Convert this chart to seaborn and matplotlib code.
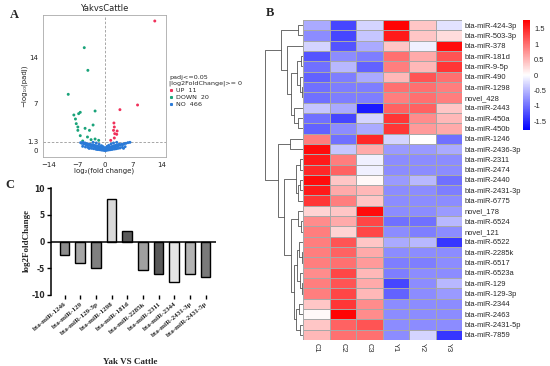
import numpy as np
import pandas as pd
import matplotlib
matplotlib.use("Agg")
import matplotlib.pyplot as plt
import seaborn as sns
from matplotlib.colors import LinearSegmentedColormap
from matplotlib.lines import Line2D

# ---------------- panel A: volcano ----------------
UP_X = [12.4, 8.1, 3.7, 2.2, 2.3, 2.1, 2.4, 2.9, 2.3, 1.4, 3.0]
UP_Y = [19.4, 6.8, 6.1, 4.1, 3.5, 3.0, 2.5, 2.4, 1.85, 1.5, 2.9]
DOWN_X = [-5.2, -4.3, -9.2, -6.2, -6.6, -7.8, -2.5, -3.0, -7.2, -6.8,
          -6.8, -6.2, -3.9, -5.0, -5.6, -2.5, -1.6, -7.4, -4.4, -3.5]
DOWN_Y = [15.4, 12.0, 8.4, 5.7, 5.5, 5.3, 5.9, 3.8, 4.0, 3.5,
          3.0, 2.2, 3.0, 3.3, 1.4, 1.7, 1.5, 4.7, 2.0, 1.6]
NO_X = [-6.1, -5.8, -5.5, -5.3, -5.0, -4.8, -4.6, -4.4, -4.2, -4.0,
        -3.8, -3.6, -3.5, -3.3, -3.1, -3.0, -2.8, -2.6, -2.5, -2.3,
        -2.2, -2.0, -1.9, -1.7, -1.6, -1.5, -1.3, -1.2, -1.1, -1.0,
        -0.9, -0.8, -0.7, -0.6, -0.5, -0.4, -0.3, -0.2, -0.1, 0.0,
        0.1, 0.2, 0.3, 0.4, 0.5, 0.6, 0.7, 0.8, 0.9, 1.0,
        1.1, 1.2, 1.4, 1.5, 1.7, 1.8, 2.0, 2.2, 2.3, 2.5,
        2.7, 2.9, 3.1, 3.3, 3.5, 3.8, 4.1, 4.4, 4.8, 5.2,
        5.7, 6.2,
        -5.6, -4.9, -4.3, -3.9, -3.4, -2.9, -2.4, -2.1, -1.8, -1.4,
        -1.0, -0.7, -0.4, -0.2, 0.2, 0.4, 0.7, 1.0, 1.3, 1.6,
        1.9, 2.4, 2.8, 3.2, 3.7, 4.3, 5.0,
        -3.0, -2.2, -1.5, -0.9, -0.5, 0.0, 0.5, 0.9, 1.5, 2.1,
        2.9, -4.0, 4.6, -1.2, 1.2]
NO_Y = [1.15, 1.05, 1.2, 0.95, 1.1, 0.85, 1.0, 0.8, 0.95, 0.75,
        0.9, 0.7, 0.85, 0.65, 0.8, 0.6, 0.75, 0.55, 0.7, 0.5,
        0.65, 0.45, 0.6, 0.4, 0.55, 0.35, 0.5, 0.3, 0.45, 0.25,
        0.4, 0.2, 0.35, 0.15, 0.3, 0.12, 0.2, 0.08, 0.05, 0.02,
        0.05, 0.1, 0.18, 0.12, 0.3, 0.2, 0.35, 0.25, 0.4, 0.3,
        0.45, 0.35, 0.5, 0.4, 0.55, 0.45, 0.6, 0.5, 0.7, 0.55,
        0.75, 0.6, 0.8, 0.7, 0.9, 0.75, 0.95, 0.85, 1.0, 1.05,
        1.15, 1.2,
        0.6, 0.5, 0.45, 0.35, 0.3, 0.25, 0.2, 0.15, 0.12, 0.1,
        0.06, 0.04, 0.03, 0.02, 0.02, 0.03, 0.05, 0.08, 0.1, 0.14,
        0.16, 0.2, 0.25, 0.3, 0.35, 0.45, 0.55,
        1.2, 1.1, 0.9, 0.7, 0.55, 0.4, 0.6, 0.75, 0.95, 1.1,
        1.2, 0.3, 0.3, 0.2, 0.2]
VOLC_COLORS = {"UP": "#f0305a", "DOWN": "#1aa37a", "NO": "#2a7ad8"}
VOLC_COUNTS = {"UP": 11, "DOWN": 20, "NO": 466}

# ---------------- panel B: heatmap ----------------
HM_ROWS = ["bta-miR-424-3p", "bta-miR-503-3p", "bta-miR-378", "bta-miR-181d",
           "bta-miR-9-5p", "bta-miR-490", "bta-miR-1298", "novel_428",
           "bta-miR-2443", "bta-miR-450a", "bta-miR-450b", "bta-miR-1246",
           "bta-miR-2436-3p", "bta-miR-2311", "bta-miR-2474", "bta-miR-2440",
           "bta-miR-2431-3p", "bta-miR-6775", "novel_178", "bta-miR-6524",
           "novel_121", "bta-miR-6522", "bta-miR-2285k", "bta-miR-6517",
           "bta-miR-6523a", "bta-miR-129", "bta-miR-129-3p", "bta-miR-2344",
           "bta-miR-2463", "bta-miR-2431-5p", "bta-miR-7859"]
HM_COLS = ["C1", "C2", "C3", "Y1", "Y2", "Y3"]
HM_VALUES = [
    [-0.6, -1.3, -0.3, 1.75, 0.4, -0.2],
    [-0.8, -1.3, -0.4, 1.6, 0.4, 0.25],
    [-0.3, -1.2, -0.6, 0.4, -0.1, 1.7],
    [-1.2, -0.8, -0.9, 1.0, 0.6, 1.2],
    [-1.0, -0.5, -1.1, 0.9, 0.5, 1.4],
    [-1.1, -0.9, -0.6, 0.5, 1.2, 1.0],
    [-1.0, -0.9, -0.9, 1.0, 1.0, 0.9],
    [-1.0, -0.9, -0.9, 0.9, 1.0, 0.9],
    [-0.4, -0.6, -1.6, 1.1, 1.1, 0.4],
    [-1.0, -1.3, -0.3, 1.4, 0.8, 0.5],
    [-1.1, -0.8, -0.6, 1.4, 0.7, 0.6],
    [0.9, -1.0, 1.5, -0.3, 0.0, -1.0],
    [1.7, -0.4, 0.6, -0.7, -0.7, -0.6],
    [1.6, 0.9, -0.1, -0.8, -0.8, -0.8],
    [1.5, 1.1, -0.1, -0.8, -0.8, -0.8],
    [1.7, 0.4, 0.05, -0.7, -0.5, -1.0],
    [1.6, 0.6, 0.5, -0.8, -0.8, -0.9],
    [1.4, 0.9, 0.4, -0.8, -0.8, -0.8],
    [0.3, 0.4, 1.7, -0.8, -0.8, -0.7],
    [0.8, 0.6, 1.3, -1.0, -1.0, -0.5],
    [0.9, 0.3, 1.3, -0.8, -0.9, -0.8],
    [0.9, 1.2, 0.4, -0.6, -0.5, -1.4],
    [0.9, 1.1, 0.6, -0.8, -0.8, -0.8],
    [0.9, 1.0, 0.7, -0.9, -0.9, -0.8],
    [0.8, 1.3, 0.5, -0.9, -0.8, -0.8],
    [0.9, 1.2, 0.6, -1.3, -0.8, -0.5],
    [0.9, 1.3, 0.5, -1.1, -0.8, -0.7],
    [0.4, 1.4, 0.8, -0.8, -0.8, -0.8],
    [0.05, 1.75, 0.8, -0.8, -0.8, -0.8],
    [0.4, 1.1, 1.2, -0.8, -0.8, -0.8],
    [0.5, 1.0, 1.0, -0.8, -0.3, -1.4],
]
CBAR_TICKS = [1.5, 1, 0.5, 0, -0.5, -1, -1.5]
CBAR_LABELS = ["1.5", "1", "0.5", "0", "-0.5", "-1", "-1.5"]

# row dendrogram: (child a, child b, height); leaves 0..30, nodes 31..
ROW_MERGES = [
    (0, 1, 5), (3, 4, 2.5), (6, 7, 1.5), (5, 33, 3.5), (32, 34, 6),
    (9, 10, 5), (8, 36, 9.5), (35, 37, 12), (2, 38, 16), (31, 39, 22),
    (11, 12, 13), (13, 14, 3), (15, 16, 3.5), (43, 17, 5), (42, 44, 7),
    (19, 20, 2.5), (18, 46, 5), (22, 23, 1.5), (21, 48, 4), (25, 26, 1.5),
    (24, 50, 3), (49, 51, 6), (27, 28, 4), (29, 30, 3.5), (53, 54, 7),
    (52, 55, 9), (47, 56, 12), (45, 57, 19), (41, 58, 25), (40, 59, 38),
]

# ---------------- panel C: bars ----------------
BAR_MIRNA = ["bta-miR-1246", "bta-miR-129", "bta-miR-129-3p", "bta-miR-1298",
             "bta-miR-181d", "bta-miR-2285k", "bta-miR-2311", "bta-miR-2344",
             "bta-miR-2431-3p", "bta-miR-2431-5p"]
BAR_LOG2FC = [-2.6, -4.1, -5.0, 7.9, 1.9, -5.4, -6.0, -7.6, -6.0, -6.6]
BAR_COLORS = ["#8c8c8c", "#a6a6a6", "#808080", "#d9d9d9", "#5a5a5a",
              "#a0a0a0", "#595959", "#e6e6e6", "#b3b3b3", "#7a7a7a"]

SERIF = "Liberation Serif"
SANS = "Liberation Sans"

sns.set_style("white")
plt.rcParams["font.family"] = ["DejaVu Sans"]

W, H = 550, 366
fig = plt.figure(figsize=(5.5, 3.66), dpi=100)


def box(left, top, right, bottom):
    return [left / W, 1 - bottom / H, (right - left) / W, (bottom - top) / H]


# ---------- A ----------
axa = fig.add_axes(box(43, 15, 166, 157))
volc = pd.DataFrame({
    "x": UP_X + DOWN_X + NO_X,
    "y": UP_Y + DOWN_Y + NO_Y,
    "group": ["UP"] * len(UP_X) + ["DOWN"] * len(DOWN_X) + ["NO"] * len(NO_X),
})
sns.scatterplot(data=volc, x="x", y="y", hue="group", palette=VOLC_COLORS,
                s=4.5, linewidth=0, legend=False, ax=axa, zorder=3)
axa.axvline(0, color="#999999", lw=0.6, ls=(0, (3, 2)), zorder=1)
axa.axhline(1.3, color="#999999", lw=0.6, ls=(0, (3, 2)), zorder=1)
axa.set_xlim(-15.5, 15.2)
axa.set_ylim(-1.0, 20.3)
axa.set_xticks([-14, -7, 0, 7, 14])
axa.set_yticks([0, 1.3, 7, 14])
axa.set_yticklabels(["0", "1.3", "7", "14"])
axa.tick_params(labelsize=5, length=2, width=0.5, color="#555555", pad=1.5,
                labelcolor="#222222")
for sp in axa.spines.values():
    sp.set_color("#aaaaaa")
    sp.set_linewidth(0.6)
axa.set_title("YakvsCattle", fontsize=6, pad=3, color="#222222")
axa.set_xlabel("log₂(fold change)", fontsize=5, color="#222222")
axa.set_ylabel("−log₁₀(padj)", fontsize=5, color="#222222")
axa.xaxis.set_label_coords(0.5, -0.075)
axa.yaxis.set_label_coords(-0.13, 0.5)
handles = [Line2D([], [], marker="s", ls="", ms=1.2, color=VOLC_COLORS[g],
                  label=f"{g}  {VOLC_COUNTS[g]}") for g in ["UP", "DOWN", "NO"]]
leg = axa.legend(handles=handles, title="padj<=0.05\n|log2FoldChange|>= 0",
                 loc="upper left", bbox_to_anchor=(0.99, 0.61), frameon=False,
                 fontsize=4.6, title_fontsize=4.6, handlelength=0.6,
                 handletextpad=0.4, labelspacing=0.25, borderpad=0.2)
leg._legend_box.align = "left"

# ---------- B ----------
axh = fig.add_axes(box(303, 20, 462, 340))
cax = fig.add_axes(box(523, 20, 530, 130))
hm = pd.DataFrame(HM_VALUES, index=HM_ROWS, columns=HM_COLS)
cmap = LinearSegmentedColormap.from_list("bwr2", ["#0000ff", "#ffffff", "#ff0000"])
sns.heatmap(hm, ax=axh, cmap=cmap, vmin=-1.79, vmax=1.79, linewidths=0.6,
            linecolor="#a8a8a8", cbar_ax=cax, xticklabels=True, yticklabels=True)
axh.yaxis.tick_right()
axh.set_yticklabels(HM_ROWS, rotation=0, fontsize=5.4, family=SANS)
axh.set_xticklabels(HM_COLS, rotation=270, fontsize=5.4, family=SANS)
axh.tick_params(length=0, pad=2)
axh.set_xlabel("")
axh.set_ylabel("")
cbar = axh.collections[0].colorbar
cbar.outline.set_visible(False)
cbar.set_ticks(CBAR_TICKS)
cbar.set_ticklabels(CBAR_LABELS)
cax.tick_params(length=0, labelsize=5.4, pad=3)
for t in cax.get_yticklabels():
    t.set_family(SANS)

# row dendrogram drawn from the merge table
axd = fig.add_axes(box(262, 20, 303, 340))
n_leaf = len(HM_ROWS)
pos = {i: (0.0, i + 0.5) for i in range(n_leaf)}
for k, (a, b, h) in enumerate(ROW_MERGES):
    (ha, ya), (hb, yb) = pos[a], pos[b]
    axd.plot([ha, h, h, hb], [ya, ya, yb, yb], color="#555555", lw=0.6)
    pos[n_leaf + k] = (h, (ya + yb) / 2)
axd.set_ylim(n_leaf, 0)
axd.set_xlim(41, 0)
axd.axis("off")

# ---------- C ----------
axc = fig.add_axes(box(51, 188, 216, 295))
sns.barplot(x=BAR_MIRNA, y=BAR_LOG2FC, hue=BAR_MIRNA, palette=BAR_COLORS,
            legend=False, ax=axc, width=0.62, edgecolor="black", linewidth=1,
            saturation=1)
axc.axhline(0, color="black", lw=1.1, zorder=5)
axc.set_ylim(-10, 10)
axc.set_xlim(-0.87, 9.67)
axc.set_yticks([-10, -5, 0, 5, 10])
for s in ["top", "right", "bottom"]:
    axc.spines[s].set_visible(False)
axc.spines["left"].set_linewidth(1.1)
axc.spines["left"].set_color("black")
axc.tick_params(axis="both", direction="out", length=3, width=1, color="black",
                bottom=True, left=True, pad=1.5)
axc.set_yticklabels(["-10", "-5", "0", "5", "10"], fontsize=5.5,
                    family="DejaVu Sans", fontweight="bold")
axc.set_xticks(range(len(BAR_MIRNA)))
axc.set_xticklabels(BAR_MIRNA, rotation=40, ha="right", rotation_mode="anchor",
                    fontsize=5, family=SERIF, fontweight="bold")
axc.set_ylabel("log2FoldChange", fontsize=6.5, family=SERIF, fontweight="bold")
axc.set_xlabel("Yak VS Cattle", fontsize=6.5, family=SERIF, fontweight="bold")
axc.yaxis.set_label_coords(-0.12, 0.51)
axc.xaxis.set_label_coords(0.48, -0.59)

# panel letters
fig.text(10 / W, 1 - 18 / H, "A", fontsize=9, family=SERIF, fontweight="bold")
fig.text(266 / W, 1 - 16 / H, "B", fontsize=9, family=SERIF, fontweight="bold")
fig.text(5 / W, 1 - 188 / H, "C", fontsize=9, family=SERIF, fontweight="bold")

fig.savefig("out.png", dpi=100)
